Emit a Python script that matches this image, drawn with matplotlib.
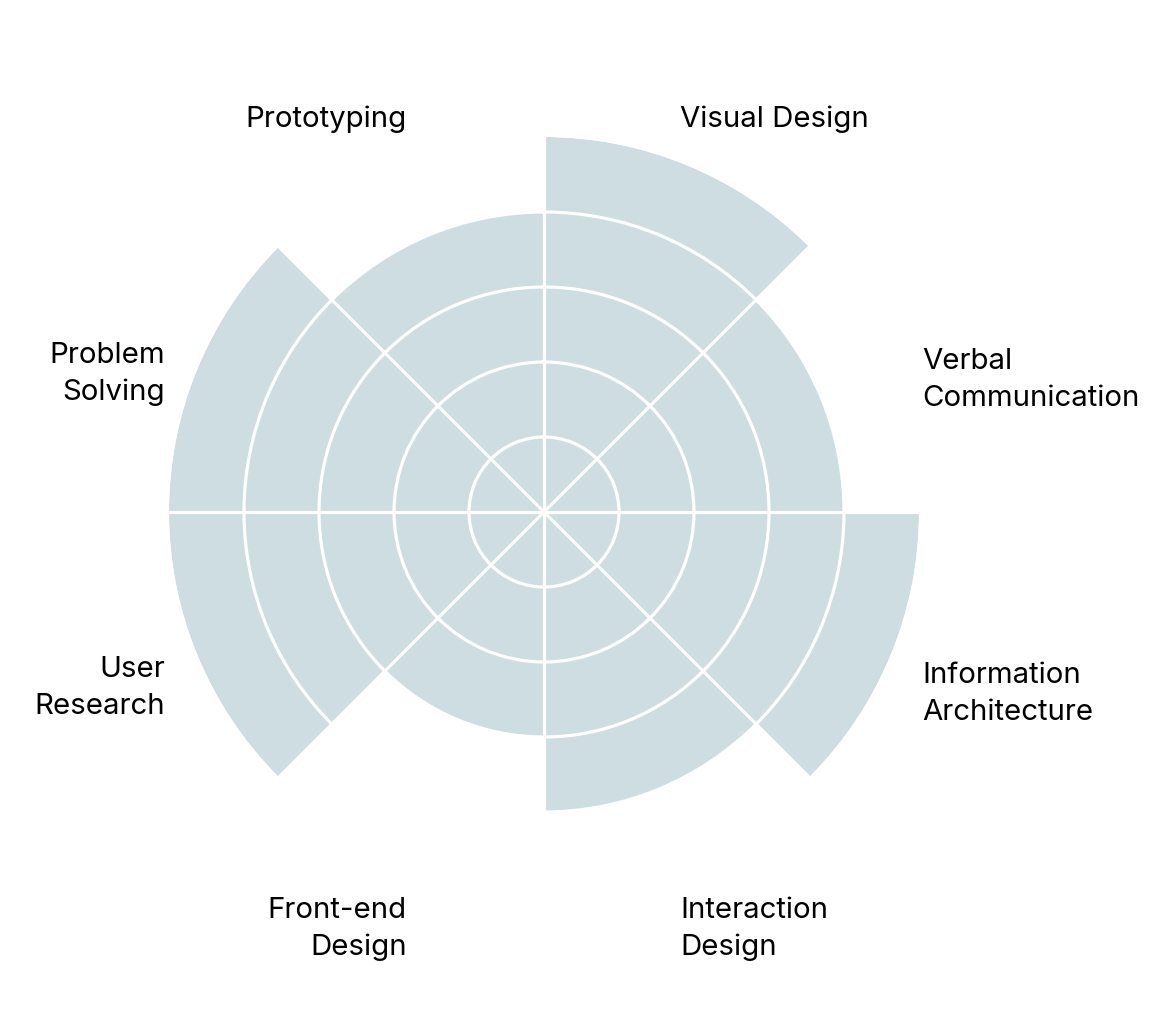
import numpy as np
import matplotlib
matplotlib.use("Agg")
from matplotlib import pyplot as plt

# compétences, dans le sens horaire depuis le haut
skills = ["Visual Design", "Verbal\nCommunication", "Information\nArchitecture",
          "Interaction\nDesign", "Front-end\nDesign", "User\nResearch",
          "Problem\nSolving", "Prototyping"]
levels = [5, 4, 5, 4, 3, 5, 5, 4]

COULEUR = "#cddde1"
plt.rcParams['font.family'] = ['Inter', 'DejaVu Sans']

W, H = 1161, 1024
fig = plt.figure(figsize=(W / 100, H / 100), dpi=100)
cx, cy, R = 544, 512, 375
ax = fig.add_axes([(cx - R) / W, (H - cy - R) / H, 2 * R / W, 2 * R / H], projection='polar')
ax.set_theta_zero_location('N')
ax.set_theta_direction(-1)

n = len(skills)
largeur = 2 * np.pi / n
angles = np.arange(n) * largeur + largeur / 2
ax.bar(angles, levels, width=largeur, color=COULEUR, edgecolor='none', zorder=1)

ax.set_ylim(0, 5)
ax.set_yticks([1, 2, 3, 4])
ax.set_xticks(np.arange(n) * largeur)
ax.set_yticklabels([])
ax.set_xticklabels([])
ax.grid(True, color='white', linewidth=2.3, zorder=3)
ax.set_axisbelow(False)
ax.spines['polar'].set_visible(False)
ax.tick_params(length=0)

# positions des étiquettes (pixels), alignement
pos_labels = [(680, 119, 'left'), (922, 380, 'left'), (922, 694, 'left'),
              (680, 929, 'left'), (407, 929, 'right'), (165, 688, 'right'),
              (165, 374, 'right'), (407, 119, 'right')]
for txt, (x, y, ha) in zip(skills, pos_labels):
    fig.text(x / W, 1 - y / H, txt, ha=ha, va='center', fontsize=21.2,
             linespacing=1.45, color='#000000')

fig.savefig("out.png", dpi=100, facecolor='white')
